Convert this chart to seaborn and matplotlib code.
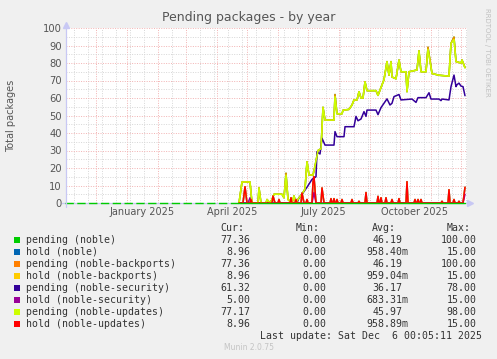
import matplotlib
matplotlib.use("Agg")
import numpy as np
import pandas as pd
import matplotlib.pyplot as plt
from matplotlib.patches import Rectangle
import seaborn as sns

# --- data (day 0 = 1 Jan 2025); nothing recorded before day 112 ---
upd_days = [112, 115, 123, 125, 131, 132, 134, 139, 140, 143, 145, 147, 155,
            157, 159, 161, 165, 167, 169, 172, 175, 178, 180, 182, 186, 188, 191,
            194, 196, 198, 207, 208, 210, 215, 216, 222, 225, 227, 230, 232, 234,
            236, 238, 240, 249, 251, 254, 257, 260, 262, 264, 265, 269, 272, 274,
            279, 280, 282, 290, 292, 294, 299, 301, 305, 312, 322, 324, 327, 329,
            334, 335, 338]
pending_updates = [0, 12, 12, 0, 0, 8.7, 0, 0, 2, 0, 2, 5, 5,
                   3, 16, 2, 0, 4, 0, 3, 5, 8, 23.6, 16, 16, 21, 30,
                   31, 54.7, 47.4, 47.4, 60.8, 51, 51, 53, 53.5, 56, 58.9, 58.9, 63.6, 60,
                   60, 69.3, 64.2, 64.2, 61.5, 66, 70.5, 80.8, 73, 80.8, 72, 71, 81.7, 75,
                   75, 63.6, 75, 76, 87, 75, 75, 87.8, 74, 73, 72.5, 91.2, 93.5, 80.8,
                   80, 81.7, 77.2]
pending_main = [0, 12, 12, 0, 0, 8.7, 0, 0, 2, 0, 2, 5, 5,
                3, 17, 2, 0, 4, 0, 3, 5, 8, 23.6, 16, 16, 21, 30,
                31, 54.7, 47.4, 47.4, 62, 51, 51, 53, 53.5, 56, 58.9, 58.9, 63.6, 60,
                60, 69.3, 64.2, 64.2, 61.5, 66, 70.5, 80.8, 73, 80.8, 72, 71, 81.7, 75,
                75, 63.6, 75, 76, 87, 75, 75, 89, 74, 73, 72.5, 91.2, 94.8, 80.8,
                80, 81.7, 77.4]

sec_days = [112, 170, 172, 175, 180, 185, 189, 190, 193, 195, 198, 207, 208, 210,
            217, 218, 227, 229, 231, 234, 237, 239, 240, 249, 251, 254, 257, 260,
            263, 265, 267, 272, 274, 285, 289, 291, 299, 302, 304, 312, 314, 315,
            322, 324, 327, 329, 330, 332, 334, 336, 338]
pending_security = [0, 0, 3, 5, 9, 13.5, 15, 29.3, 28, 37, 33.1, 33.1, 40.8, 37.9,
                    37.9, 43.6, 43.6, 49.5, 47, 48, 52.2, 49.5, 53.1, 53.1, 50.5, 54.5, 57, 59.5,
                    56, 57, 60.8, 62, 58.9, 59.4, 57.5, 60.2, 60.2, 63, 59.4, 59.4, 58.5, 59.4,
                    58.9, 66.5, 73.1, 66.5, 67.6, 68.5, 66.8, 66.5, 61.3]

hold_days = [112, 116, 118, 120, 123, 124, 125, 145, 146, 148, 151, 152, 153,
             163, 164, 165, 168, 169, 170, 174, 175, 177, 179, 180, 181,
             185, 186, 187, 189, 194, 195, 197, 203, 204, 205, 206, 207, 208,
             209, 210, 211, 214, 215, 216, 224, 225, 226, 231, 232, 233,
             238, 239, 240, 250, 251, 252, 253, 254, 255, 258, 259, 260,
             264, 265, 266, 271, 272, 273, 279, 280, 281, 287, 288, 289,
             290, 291, 292, 293, 294, 295, 314, 315, 316, 321, 322, 323,
             326, 327, 328, 331, 332, 333, 336, 338]
hold_updates = [0, 0, 9.3, 0, 0, 2, 0, 0, 4, 0, 0, 2, 0,
                0, 3, 0, 0, 2, 0, 0, 5.7, 0, 0, 2, 0,
                0, 12, 15, 0, 0, 8.6, 0, 0, 2.5, 0, 0, 2.5, 0,
                0, 2, 0, 0, 2, 0, 0, 2, 0, 0, 1, 0,
                0, 6, 0, 0, 3.8, 0, 0, 3, 0, 0, 3, 0,
                0, 2, 0, 0, 2.5, 0, 0, 12.2, 0, 0, 2, 0,
                0, 2, 0, 0, 2, 0, 0, 1, 0, 0, 7.6, 0,
                0, 2, 0, 0, 1, 0, 0, 9]
hold_sec_days = [112, 121, 123, 125, 185, 187, 189, 336, 338]
hold_security = [0, 0, 3, 0, 0, 6, 0, 0, 5]
data_start = 112

series_names = ["pending (noble)", "hold (noble)", "pending (noble-backports)",
                "hold (noble-backports)", "pending (noble-security)",
                "hold (noble-security)", "pending (noble-updates)", "hold (noble-updates)"]
series_colors = ["#00cc00", "#0066b3", "#ff8000", "#ffcc00",
                 "#330099", "#990099", "#ccff00", "#ff0000"]
cur_vals = ["77.36", "8.96", "77.36", "8.96", "61.32", "5.00", "77.17", "8.96"]
min_vals = ["0.00"] * 8
avg_vals = ["46.19", "958.40m", "46.19", "959.04m", "36.17", "683.31m", "45.97", "958.89m"]
max_vals = ["100.00", "15.00", "100.00", "15.00", "78.00", "15.00", "98.00", "15.00"]

W, H = 497, 359
sns.set_style("white")
plt.rcParams['font.family'] = ['DejaVu Sans']

fig = plt.figure(figsize=(W / 100, H / 100), dpi=100, facecolor='#f0f0f0')
ax = fig.add_axes([66 / W, 1 - 203 / H, 401 / W, 175 / H])
ax.set_facecolor('white')


def fx(x):
    return x / W


def fy(y):
    return 1 - y / H


frames = []
for name, d, v in [
    (series_names[0], upd_days, pending_main),
    (series_names[1], hold_days, hold_updates),
    (series_names[2], upd_days, pending_main),
    (series_names[3], hold_days, hold_updates),
    (series_names[4], sec_days, pending_security),
    (series_names[5], hold_sec_days, hold_security),
    (series_names[6], upd_days, pending_updates),
    (series_names[7], hold_days, hold_updates),
]:
    frames.append(pd.DataFrame({'day': d, 'value': v, 'series': name}))
df = pd.concat(frames, ignore_index=True)

sns.lineplot(data=df, x='day', y='value', hue='series', hue_order=series_names,
             palette=dict(zip(series_names, series_colors)), estimator=None,
             linewidth=1.1, legend=False, ax=ax, zorder=3)

# zero line of pending (noble), dashed while no data yet
ax.plot([-62, data_start], [0, 0], color='#00cc00', lw=1.0, ls=(0, (6, 2.5)), zorder=4, clip_on=False)
ax.plot([data_start, 338], [0, 0], color='#00cc00', lw=1.0, zorder=4, clip_on=False)

ax.set_xlim(-61, 340)
ax.set_ylim(0, 100)

month_starts = (pd.date_range('2024-11-01', '2025-12-01', freq='MS') - pd.Timestamp('2025-01-01')).days
ax.set_xticks(list(month_starts))
ax.set_xticks(np.arange(-53, 340, 14), minor=True)
ax.set_xticklabels([])
ax.set_yticks(np.arange(0, 101, 10))
ax.set_yticks(np.arange(5, 100, 10), minor=True)
ax.tick_params(axis='both', which='both', length=0)
ax.tick_params(axis='y', labelsize=7.2, labelcolor='#555555', pad=3)
ax.grid(which='major', color='#f2b2b2', lw=0.7, ls=(0, (1, 1.5)), zorder=1)
ax.grid(which='minor', color='#d6d6d6', lw=0.7, ls=(0, (1, 1.5)), zorder=0)
for s in ax.spines.values():
    s.set_visible(False)
ax.set_xlabel('')
ax.set_ylabel('')

for lbl, day in zip(["January 2025", "April 2025", "July 2025", "October 2025"], [15, 105, 196, 288]):
    ax.text(day, -9 / 175, lbl, transform=ax.get_xaxis_transform(), ha='center', va='center',
            fontsize=7, color='#555555')

# axis lines with arrows
lav = '#c8c8f4'
ax.plot([0, 0], [-4 / 175, 1 + 2 / 175], transform=ax.transAxes, color=lav, lw=0.9, clip_on=False, zorder=5)
ax.plot([-4 / 401, 1 + 2 / 401], [0, 0], transform=ax.transAxes, color=lav, lw=0.9, clip_on=False, zorder=2)
ax.plot([0], [1 + 3 / 175], transform=ax.transAxes, marker='^', ms=4.5, color=lav, clip_on=False)
ax.plot([1 + 3 / 401], [0], transform=ax.transAxes, marker='>', ms=4.5, color=lav, clip_on=False)

fig.text(0.5, fy(18), "Pending packages - by year", ha='center', va='center', fontsize=9, color='#555555')
fig.text(fx(11), fy(116), "Total packages", rotation=90, ha='center', va='center', fontsize=7, color='#555555')
fig.text(fx(487), fy(52), "RRDTOOL / TOBI OETIKER", rotation=270, ha='center', va='center',
         fontsize=5, color='#c0c0c0')

# legend table
mono = dict(family='DejaVu Sans Mono', fontsize=7.1, color='#333333', va='center')
col_right = [256.7, 332, 408.3, 482.7]
for hdr, r in zip(["Cur:", "Min:", "Avg:", "Max:"], col_right):
    fig.text(fx(r - 12), fy(228), hdr, ha='right', **mono)
for i, name in enumerate(series_names):
    y = 240 + 12 * i
    fig.patches.append(Rectangle((fx(14), fy(y + 3)), 6 / W, 6 / H, transform=fig.transFigure,
                                 facecolor=series_colors[i], edgecolor='none'))
    fig.text(fx(26.5), fy(y), name, ha='left', **mono)
    for vals, r in zip([cur_vals, min_vals, avg_vals, max_vals], col_right):
        v = vals[i]
        fig.text(fx(r if v.endswith('m') else r - 6), fy(y), v, ha='right', **mono)
fig.text(fx(482.5), fy(336), "Last update: Sat Dec  6 00:05:11 2025", ha='right', **mono)
fig.text(0.5, fy(348), "Munin 2.0.75", ha='center', va='center', fontsize=5.5, color='#c4c4c4')

fig.savefig("out.png", dpi=100, facecolor=fig.get_facecolor())
